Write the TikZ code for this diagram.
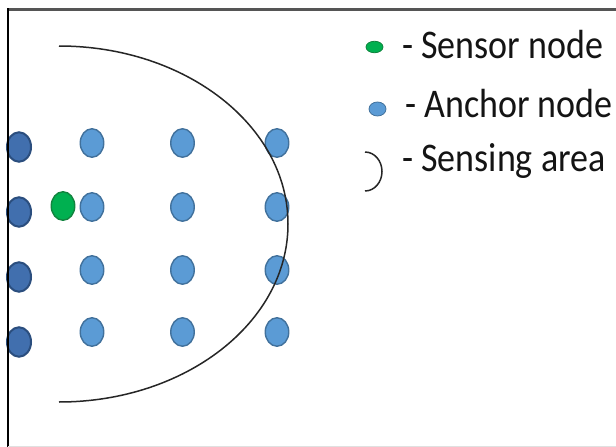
\documentclass[tikz,border=0pt]{standalone}
\usepackage{fontspec}
\setmainfont{Carlito}
\usetikzlibrary{shapes.geometric}

\definecolor{anchorfill}{HTML}{5B9BD5}
\definecolor{anchorline}{HTML}{41719C}
\definecolor{edgefill}{HTML}{416FAE}
\definecolor{edgeline}{HTML}{2B4E7E}
\definecolor{sensorfill}{HTML}{00B050}
\definecolor{sensorline}{HTML}{12843F}
\definecolor{framegray}{HTML}{555555}

\tikzset{
  dot/.style={ellipse, inner sep=0pt, minimum width=23.5pt, minimum height=28.5pt, line width=1.4pt},
  anchordot/.style={dot, fill=anchorfill, draw=anchorline},
  edgedot/.style={dot, fill=edgefill, draw=edgeline, line width=2pt, minimum width=24pt, minimum height=29.5pt},
  sensordot/.style={dot, fill=sensorfill, draw=sensorline},
  rangeline/.style={line width=1.5pt, draw=black!85},
  legendtext/.style={anchor=base west, inner sep=0pt, font=\fontsize{36}{40}\selectfont, text=black!92},
}

\begin{document}
\begin{tikzpicture}[x=1pt, y=-1pt]
  \useasboundingbox (0,0) rectangle (616,447);
  \fill[white] (0,0) rectangle (616,447);

  % grid of nodes
  \foreach \r/\y/\ye in {1/143/147, 2/207/212, 3/270/277, 4/332/342} {
    \node[edgedot] (e\r) at (19,\ye) {};
    \node[anchordot] (a\r1) at (92,\y) {};
    \node[anchordot] (a\r2) at (182.5,\y) {};
    \node[anchordot] (a\r3) at (277,\y) {};
  }
  \node[sensordot] (s) at (63,206) {};

  % sensing range of the sensor node
  \coordinate (rtop) at (59,46);
  \draw[rangeline] (rtop) arc[start angle=-90, end angle=90, x radius=229, y radius=178];

  % legend
  \node[ellipse, inner sep=0pt, minimum width=17pt, minimum height=11.5pt, fill=sensorfill, draw=sensorline, line width=0.8pt] (ls) at (374.5,47) {};
  \node[ellipse, inner sep=0pt, minimum width=17pt, minimum height=14pt, fill=anchorfill, draw=anchorline, line width=0.8pt] (la) at (377.5,109) {};
  \coordinate (lr) at (365,152);
  \draw[rangeline] (lr) arc[start angle=-90, end angle=90, x radius=17, y radius=19.5];

  \node[legendtext] (t1) at (402,58) {\scalebox{1}[1.13]{- Sensor node}};
  \node[legendtext] (t2) at (405,117) {\scalebox{1}[1.13]{- Anchor node}};
  \node[legendtext] (t3) at (402,171) {\scalebox{1}[1.13]{- Sensing area}};

  % frame
  \draw[framegray, line width=2.6pt] (7,9.3) -- (616,9.3);
  \draw[black, line width=1.5pt] (7.8,8) -- (7.8,447);
  \draw[black!12, line width=1pt] (7.8,446.5) -- (616,446.5);
\end{tikzpicture}
\end{document}
